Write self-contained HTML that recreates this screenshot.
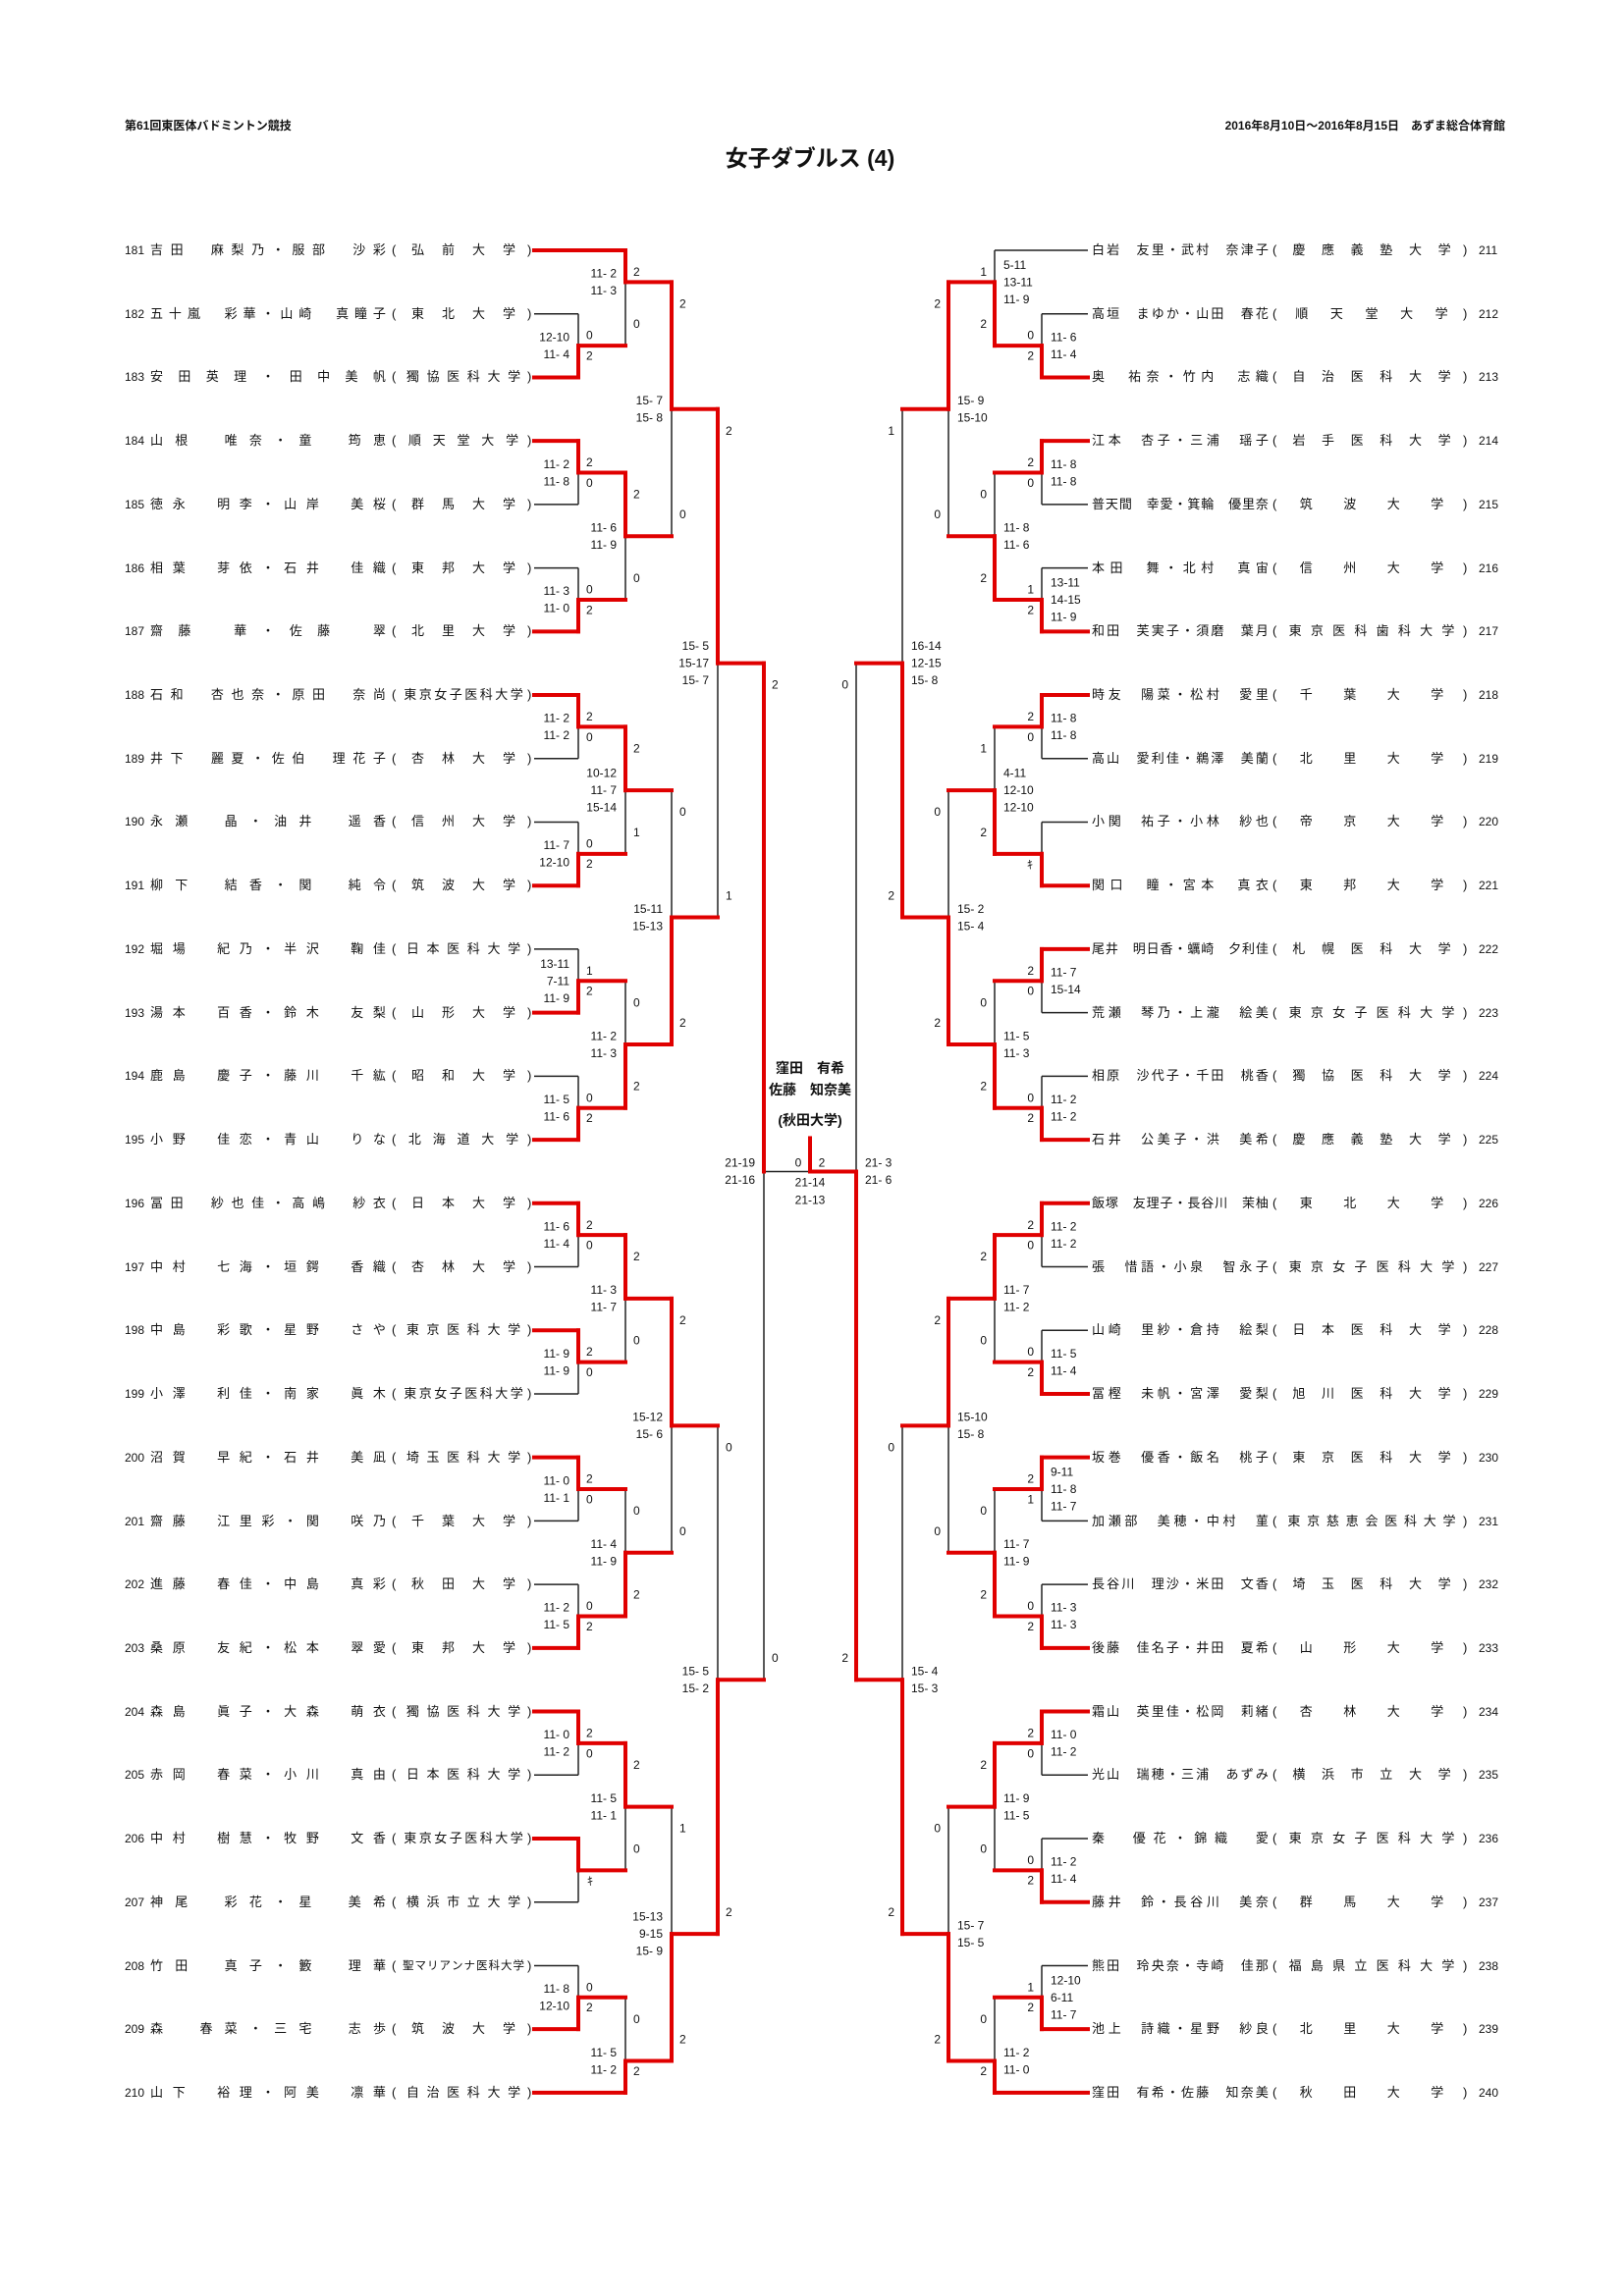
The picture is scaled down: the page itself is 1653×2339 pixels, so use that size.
<!DOCTYPE html>
<html><head><meta charset="utf-8">
<style>
body{margin:0;width:1653px;height:2339px;position:relative;background:#fff;font-family:"Liberation Sans","Noto Sans CJK JP",sans-serif;color:#111;overflow:hidden}
.h{position:absolute;font-weight:bold;font-size:12px;white-space:nowrap}
.t{position:absolute;left:0;width:1653px;height:18px;font-size:13px;line-height:18px;font-family:"Liberation Sans","Noto Sans CJK JP",sans-serif}
.t span{position:absolute;top:0;height:18px;white-space:nowrap}
.t .nm,.t .u{display:flex;text-align-last:justify}
.t .nm{justify-content:space-between}
.t .u{justify-content:space-around}
.t .n{font-size:12px}
.L .n{left:127px}.L .nm{left:153px;width:240px}.L .p1{left:399px}.L .u{left:410px;width:124px}.L .p2{left:537px}
.R .nm{left:1112px;width:180px}.R .p1{left:1296px}.R .u{left:1308px;width:178px}.R .p2{left:1490px}.R .n{left:1506px}
.t .sm{font-size:11.5px;justify-content:space-between}
svg{position:absolute;left:0;top:0}
svg text{font-family:"Liberation Sans Narrow","Liberation Sans",sans-serif;font-size:12px;fill:#111}
.ct{position:absolute;left:725px;width:200px;text-align:center;font-weight:bold;font-size:14px;line-height:18px}
</style></head><body>
<div class="h" style="left:127px;top:119px">第61回東医体バドミントン競技</div>
<div class="h" style="left:1133px;width:400px;text-align:right;top:119px">2016年8月10日～2016年8月15日　あずま総合体育館</div>
<div class="h" style="left:625px;width:400px;text-align:center;top:142px;font-size:23px">女子ダブルス (4)</div>

<div class="t L" style="top:246px"><span class="n">181</span><span class="nm">吉田　麻梨乃・服部　沙彩</span><span class="p1">(</span><span class="u">弘前大学</span><span class="p2">)</span></div>
<div class="t L" style="top:311px"><span class="n">182</span><span class="nm">五十嵐　彩華・山崎　真瞳子</span><span class="p1">(</span><span class="u">東北大学</span><span class="p2">)</span></div>
<div class="t L" style="top:375px"><span class="n">183</span><span class="nm">安田英理・田中美帆</span><span class="p1">(</span><span class="u">獨協医科大学</span><span class="p2">)</span></div>
<div class="t L" style="top:440px"><span class="n">184</span><span class="nm">山根　唯奈・童　筠恵</span><span class="p1">(</span><span class="u">順天堂大学</span><span class="p2">)</span></div>
<div class="t L" style="top:505px"><span class="n">185</span><span class="nm">徳永　明李・山岸　美桜</span><span class="p1">(</span><span class="u">群馬大学</span><span class="p2">)</span></div>
<div class="t L" style="top:570px"><span class="n">186</span><span class="nm">相葉　芽依・石井　佳織</span><span class="p1">(</span><span class="u">東邦大学</span><span class="p2">)</span></div>
<div class="t L" style="top:634px"><span class="n">187</span><span class="nm">齋藤　華・佐藤　翠</span><span class="p1">(</span><span class="u">北里大学</span><span class="p2">)</span></div>
<div class="t L" style="top:699px"><span class="n">188</span><span class="nm">石和　杏也奈・原田　奈尚</span><span class="p1">(</span><span class="u">東京女子医科大学</span><span class="p2">)</span></div>
<div class="t L" style="top:764px"><span class="n">189</span><span class="nm">井下　麗夏・佐伯　理花子</span><span class="p1">(</span><span class="u">杏林大学</span><span class="p2">)</span></div>
<div class="t L" style="top:828px"><span class="n">190</span><span class="nm">永瀬　晶・油井　遥香</span><span class="p1">(</span><span class="u">信州大学</span><span class="p2">)</span></div>
<div class="t L" style="top:893px"><span class="n">191</span><span class="nm">柳下　結香・関　純令</span><span class="p1">(</span><span class="u">筑波大学</span><span class="p2">)</span></div>
<div class="t L" style="top:958px"><span class="n">192</span><span class="nm">堀場　紀乃・半沢　鞠佳</span><span class="p1">(</span><span class="u">日本医科大学</span><span class="p2">)</span></div>
<div class="t L" style="top:1023px"><span class="n">193</span><span class="nm">湯本　百香・鈴木　友梨</span><span class="p1">(</span><span class="u">山形大学</span><span class="p2">)</span></div>
<div class="t L" style="top:1087px"><span class="n">194</span><span class="nm">鹿島　慶子・藤川　千紘</span><span class="p1">(</span><span class="u">昭和大学</span><span class="p2">)</span></div>
<div class="t L" style="top:1152px"><span class="n">195</span><span class="nm">小野　佳恋・青山　りな</span><span class="p1">(</span><span class="u">北海道大学</span><span class="p2">)</span></div>
<div class="t L" style="top:1217px"><span class="n">196</span><span class="nm">冨田　紗也佳・高嶋　紗衣</span><span class="p1">(</span><span class="u">日本大学</span><span class="p2">)</span></div>
<div class="t L" style="top:1282px"><span class="n">197</span><span class="nm">中村　七海・垣鍔　香織</span><span class="p1">(</span><span class="u">杏林大学</span><span class="p2">)</span></div>
<div class="t L" style="top:1346px"><span class="n">198</span><span class="nm">中島　彩歌・星野　さや</span><span class="p1">(</span><span class="u">東京医科大学</span><span class="p2">)</span></div>
<div class="t L" style="top:1411px"><span class="n">199</span><span class="nm">小澤　利佳・南家　眞木</span><span class="p1">(</span><span class="u">東京女子医科大学</span><span class="p2">)</span></div>
<div class="t L" style="top:1476px"><span class="n">200</span><span class="nm">沼賀　早紀・石井　美凪</span><span class="p1">(</span><span class="u">埼玉医科大学</span><span class="p2">)</span></div>
<div class="t L" style="top:1541px"><span class="n">201</span><span class="nm">齋藤　江里彩・関　咲乃</span><span class="p1">(</span><span class="u">千葉大学</span><span class="p2">)</span></div>
<div class="t L" style="top:1605px"><span class="n">202</span><span class="nm">進藤　春佳・中島　真彩</span><span class="p1">(</span><span class="u">秋田大学</span><span class="p2">)</span></div>
<div class="t L" style="top:1670px"><span class="n">203</span><span class="nm">桑原　友紀・松本　翠愛</span><span class="p1">(</span><span class="u">東邦大学</span><span class="p2">)</span></div>
<div class="t L" style="top:1735px"><span class="n">204</span><span class="nm">森島　眞子・大森　萌衣</span><span class="p1">(</span><span class="u">獨協医科大学</span><span class="p2">)</span></div>
<div class="t L" style="top:1799px"><span class="n">205</span><span class="nm">赤岡　春菜・小川　真由</span><span class="p1">(</span><span class="u">日本医科大学</span><span class="p2">)</span></div>
<div class="t L" style="top:1864px"><span class="n">206</span><span class="nm">中村　樹慧・牧野　文香</span><span class="p1">(</span><span class="u">東京女子医科大学</span><span class="p2">)</span></div>
<div class="t L" style="top:1929px"><span class="n">207</span><span class="nm">神尾　彩花・星　美希</span><span class="p1">(</span><span class="u">横浜市立大学</span><span class="p2">)</span></div>
<div class="t L" style="top:1994px"><span class="n">208</span><span class="nm">竹田　真子・籔　理華</span><span class="p1">(</span><span class="u sm">聖マリアンナ医科大学</span><span class="p2">)</span></div>
<div class="t L" style="top:2058px"><span class="n">209</span><span class="nm">森　春菜・三宅　志歩</span><span class="p1">(</span><span class="u">筑波大学</span><span class="p2">)</span></div>
<div class="t L" style="top:2123px"><span class="n">210</span><span class="nm">山下　裕理・阿美　凛華</span><span class="p1">(</span><span class="u">自治医科大学</span><span class="p2">)</span></div>

<div class="t R" style="top:246px"><span class="nm">白岩　友里・武村　奈津子</span><span class="p1">(</span><span class="u">慶應義塾大学</span><span class="p2">)</span><span class="n">211</span></div>
<div class="t R" style="top:311px"><span class="nm">高垣　まゆか・山田　春花</span><span class="p1">(</span><span class="u">順天堂大学</span><span class="p2">)</span><span class="n">212</span></div>
<div class="t R" style="top:375px"><span class="nm">奥　祐奈・竹内　志織</span><span class="p1">(</span><span class="u">自治医科大学</span><span class="p2">)</span><span class="n">213</span></div>
<div class="t R" style="top:440px"><span class="nm">江本　杏子・三浦　瑶子</span><span class="p1">(</span><span class="u">岩手医科大学</span><span class="p2">)</span><span class="n">214</span></div>
<div class="t R" style="top:505px"><span class="nm">普天間　幸愛・箕輪　優里奈</span><span class="p1">(</span><span class="u">筑波大学</span><span class="p2">)</span><span class="n">215</span></div>
<div class="t R" style="top:570px"><span class="nm">本田　舞・北村　真宙</span><span class="p1">(</span><span class="u">信州大学</span><span class="p2">)</span><span class="n">216</span></div>
<div class="t R" style="top:634px"><span class="nm">和田　芙実子・須磨　葉月</span><span class="p1">(</span><span class="u">東京医科歯科大学</span><span class="p2">)</span><span class="n">217</span></div>
<div class="t R" style="top:699px"><span class="nm">時友　陽菜・松村　愛里</span><span class="p1">(</span><span class="u">千葉大学</span><span class="p2">)</span><span class="n">218</span></div>
<div class="t R" style="top:764px"><span class="nm">高山　愛利佳・鵜澤　美蘭</span><span class="p1">(</span><span class="u">北里大学</span><span class="p2">)</span><span class="n">219</span></div>
<div class="t R" style="top:828px"><span class="nm">小関　祐子・小林　紗也</span><span class="p1">(</span><span class="u">帝京大学</span><span class="p2">)</span><span class="n">220</span></div>
<div class="t R" style="top:893px"><span class="nm">関口　瞳・宮本　真衣</span><span class="p1">(</span><span class="u">東邦大学</span><span class="p2">)</span><span class="n">221</span></div>
<div class="t R" style="top:958px"><span class="nm">尾井　明日香・蠣崎　夕利佳</span><span class="p1">(</span><span class="u">札幌医科大学</span><span class="p2">)</span><span class="n">222</span></div>
<div class="t R" style="top:1023px"><span class="nm">荒瀬　琴乃・上瀧　絵美</span><span class="p1">(</span><span class="u">東京女子医科大学</span><span class="p2">)</span><span class="n">223</span></div>
<div class="t R" style="top:1087px"><span class="nm">相原　沙代子・千田　桃香</span><span class="p1">(</span><span class="u">獨協医科大学</span><span class="p2">)</span><span class="n">224</span></div>
<div class="t R" style="top:1152px"><span class="nm">石井　公美子・洪　美希</span><span class="p1">(</span><span class="u">慶應義塾大学</span><span class="p2">)</span><span class="n">225</span></div>
<div class="t R" style="top:1217px"><span class="nm">飯塚　友理子・長谷川　茉柚</span><span class="p1">(</span><span class="u">東北大学</span><span class="p2">)</span><span class="n">226</span></div>
<div class="t R" style="top:1282px"><span class="nm">張　惜語・小泉　智永子</span><span class="p1">(</span><span class="u">東京女子医科大学</span><span class="p2">)</span><span class="n">227</span></div>
<div class="t R" style="top:1346px"><span class="nm">山崎　里紗・倉持　絵梨</span><span class="p1">(</span><span class="u">日本医科大学</span><span class="p2">)</span><span class="n">228</span></div>
<div class="t R" style="top:1411px"><span class="nm">冨樫　未帆・宮澤　愛梨</span><span class="p1">(</span><span class="u">旭川医科大学</span><span class="p2">)</span><span class="n">229</span></div>
<div class="t R" style="top:1476px"><span class="nm">坂巻　優香・飯名　桃子</span><span class="p1">(</span><span class="u">東京医科大学</span><span class="p2">)</span><span class="n">230</span></div>
<div class="t R" style="top:1541px"><span class="nm">加瀬部　美穂・中村　菫</span><span class="p1">(</span><span class="u">東京慈恵会医科大学</span><span class="p2">)</span><span class="n">231</span></div>
<div class="t R" style="top:1605px"><span class="nm">長谷川　理沙・米田　文香</span><span class="p1">(</span><span class="u">埼玉医科大学</span><span class="p2">)</span><span class="n">232</span></div>
<div class="t R" style="top:1670px"><span class="nm">後藤　佳名子・井田　夏希</span><span class="p1">(</span><span class="u">山形大学</span><span class="p2">)</span><span class="n">233</span></div>
<div class="t R" style="top:1735px"><span class="nm">霜山　英里佳・松岡　莉緒</span><span class="p1">(</span><span class="u">杏林大学</span><span class="p2">)</span><span class="n">234</span></div>
<div class="t R" style="top:1799px"><span class="nm">光山　瑞穂・三浦　あずみ</span><span class="p1">(</span><span class="u">横浜市立大学</span><span class="p2">)</span><span class="n">235</span></div>
<div class="t R" style="top:1864px"><span class="nm">秦　優花・錦織　愛</span><span class="p1">(</span><span class="u">東京女子医科大学</span><span class="p2">)</span><span class="n">236</span></div>
<div class="t R" style="top:1929px"><span class="nm">藤井　鈴・長谷川　美奈</span><span class="p1">(</span><span class="u">群馬大学</span><span class="p2">)</span><span class="n">237</span></div>
<div class="t R" style="top:1994px"><span class="nm">熊田　玲央奈・寺崎　佳那</span><span class="p1">(</span><span class="u">福島県立医科大学</span><span class="p2">)</span><span class="n">238</span></div>
<div class="t R" style="top:2058px"><span class="nm">池上　詩織・星野　紗良</span><span class="p1">(</span><span class="u">北里大学</span><span class="p2">)</span><span class="n">239</span></div>
<div class="t R" style="top:2123px"><span class="nm">窪田　有希・佐藤　知奈美</span><span class="p1">(</span><span class="u">秋田大学</span><span class="p2">)</span><span class="n">240</span></div>

<div class="ct" style="top:1079px">窪田　有希</div>
<div class="ct" style="top:1101px">佐藤　知奈美</div>
<div class="ct" style="top:1132px">(秋田大学)</div>

<svg id="sv" width="1653" height="2339" xmlns="http://www.w3.org/2000/svg"><g id="gb" stroke="#222" stroke-width="1.5" fill="none"></g><g id="gr" stroke="#e00000" stroke-width="4" stroke-linecap="square" fill="none"></g><g id="gt"></g></svg>

<script>
document.querySelectorAll('.t .nm,.t .u').forEach(function(e){
  var s=e.textContent;e.textContent='';
  for(var i=0;i<s.length;i++){var c=document.createElement('i');c.style.fontStyle='normal';c.textContent=s[i];e.appendChild(c);}
});
var NS='http://www.w3.org/2000/svg';
var gb=document.getElementById('gb'),gr=document.getElementById('gr'),gt=document.getElementById('gt');
function Y(r){return 255+64.72*r;}
function ln(x1,y1,x2,y2,red){var l=document.createElementNS(NS,'line');l.setAttribute('x1',x1);l.setAttribute('y1',y1);l.setAttribute('x2',x2);l.setAttribute('y2',y2);(red?gr:gb).appendChild(l);}
function tx(x,y,s,anc){var t=document.createElementNS(NS,'text');t.setAttribute('x',x);t.setAttribute('y',y+4);t.setAttribute('text-anchor',anc);t.textContent=s;gt.appendChild(t);}
var COLS={L:[589,637,684,731,778],R:[1061,1013,966,919,872]};
var START={L:544,R:1108};
function lf(r){return {leaf:true,y:Y(r)};}
function N(a,b,w,sc,g,jr){return {a:a,b:b,w:w,sc:sc,g:g,y:Y(jr)};}
function P(r,w,sc,g){return N(lf(r),lf(r+1),w,sc,g,r+0.5);}
function draw(n,side,k){
  var X=COLS[side][k],d=side=='L'?1:-1;
  [n.a,n.b].forEach(function(c,i){
    var win=(i==0&&n.w=='a')||(i==1&&n.w=='b');
    if(c.leaf){ln(START[side],c.y,X,c.y,win);}
    else{draw(c,side,k-1);ln(COLS[side][k-1],c.y,X,c.y,true);}
  });
  ln(X,n.a.y,X,n.b.y,false);
  var wy=n.w=='a'?n.a.y:n.b.y;ln(X,wy,X,n.y,true);
  var ga=side=='L'?'start':'end',sa=side=='L'?'end':'start';
  if(n.g=='f'){tx(X+d*9,n.y+11,'ｷ',ga);}
  else{tx(X+d*8,n.a.y+22,n.g[0],ga);tx(X+d*8,n.b.y-22,n.g[1],ga);}
  if(n.sc){var m=(n.sc.length-1)/2;n.sc.forEach(function(s,i){tx(X-d*9,n.y+(i-m)*17.5,s,sa);});}
}
function build(p,q,r,s,t){
  var Q1=N(lf(0),P(1,p[0][0],p[0][1],p[0][2]),q[0][0],q[0][1],q[0][2],0.5);
  var Ps=[];for(var i=1;i<14;i++){Ps.push(P(2*i+1,p[i][0],p[i][1],p[i][2]));}
  var Q2=N(Ps[0],Ps[1],q[1][0],q[1][1],q[1][2],4.5);
  var Q3=N(Ps[2],Ps[3],q[2][0],q[2][1],q[2][2],8.5);
  var Q4=N(Ps[4],Ps[5],q[3][0],q[3][1],q[3][2],12.5);
  var Q5=N(Ps[6],Ps[7],q[4][0],q[4][1],q[4][2],16.5);
  var Q6=N(Ps[8],Ps[9],q[5][0],q[5][1],q[5][2],20.5);
  var Q7=N(Ps[10],Ps[11],q[6][0],q[6][1],q[6][2],24.5);
  var Q8=N(Ps[12],lf(29),q[7][0],q[7][1],q[7][2],28.5);
  var R1=N(Q1,Q2,r[0][0],r[0][1],r[0][2],2.5),R2=N(Q3,Q4,r[1][0],r[1][1],r[1][2],10.5),
      R3=N(Q5,Q6,r[2][0],r[2][1],r[2][2],18.5),R4=N(Q7,Q8,r[3][0],r[3][1],r[3][2],26.5);
  var S1=N(R1,R2,s[0][0],s[0][1],s[0][2],6.5),S2=N(R3,R4,s[1][0],s[1][1],s[1][2],22.5);
  return N(S1,S2,t[0],t[1],t[2],14.5);
}
var TL=build(
 [['b',['12-10','11- 4'],['0','2']],['a',['11- 2','11- 8'],['2','0']],['b',['11- 3','11- 0'],['0','2']],['a',['11- 2','11- 2'],['2','0']],
  ['b',['11- 7','12-10'],['0','2']],['b',['13-11','7-11','11- 9'],['1','2']],['b',['11- 5','11- 6'],['0','2']],['a',['11- 6','11- 4'],['2','0']],
  ['a',['11- 9','11- 9'],['2','0']],['a',['11- 0','11- 1'],['2','0']],['b',['11- 2','11- 5'],['0','2']],['a',['11- 0','11- 2'],['2','0']],
  ['a',null,'f'],['b',['11- 8','12-10'],['0','2']]],
 [['a',['11- 2','11- 3'],['2','0']],['a',['11- 6','11- 9'],['2','0']],['a',['10-12','11- 7','15-14'],['2','1']],['b',['11- 2','11- 3'],['0','2']],
  ['a',['11- 3','11- 7'],['2','0']],['b',['11- 4','11- 9'],['0','2']],['a',['11- 5','11- 1'],['2','0']],['b',['11- 5','11- 2'],['0','2']]],
 [['a',['15- 7','15- 8'],['2','0']],['b',['15-11','15-13'],['0','2']],['a',['15-12','15- 6'],['2','0']],['b',['15-13','9-15','15- 9'],['1','2']]],
 [['a',['15- 5','15-17','15- 7'],['2','1']],['b',['15- 5','15- 2'],['0','2']]],
 ['a',['21-19','21-16'],['2','0']]);
var TR=build(
 [['b',['11- 6','11- 4'],['0','2']],['a',['11- 8','11- 8'],['2','0']],['b',['13-11','14-15','11- 9'],['1','2']],['a',['11- 8','11- 8'],['2','0']],
  ['b',null,'f'],['a',['11- 7','15-14'],['2','0']],['b',['11- 2','11- 2'],['0','2']],['a',['11- 2','11- 2'],['2','0']],
  ['b',['11- 5','11- 4'],['0','2']],['a',['9-11','11- 8','11- 7'],['2','1']],['b',['11- 3','11- 3'],['0','2']],['a',['11- 0','11- 2'],['2','0']],
  ['b',['11- 2','11- 4'],['0','2']],['b',['12-10','6-11','11- 7'],['1','2']]],
 [['b',['5-11','13-11','11- 9'],['1','2']],['b',['11- 8','11- 6'],['0','2']],['b',['4-11','12-10','12-10'],['1','2']],['b',['11- 5','11- 3'],['0','2']],
  ['a',['11- 7','11- 2'],['2','0']],['b',['11- 7','11- 9'],['0','2']],['a',['11- 9','11- 5'],['2','0']],['b',['11- 2','11- 0'],['0','2']]],
 [['a',['15- 9','15-10'],['2','0']],['b',['15- 2','15- 4'],['0','2']],['a',['15-10','15- 8'],['2','0']],['b',['15- 7','15- 5'],['0','2']]],
 [['b',['16-14','12-15','15- 8'],['1','2']],['b',['15- 4','15- 3'],['0','2']]],
 ['b',['21- 3','21- 6'],['0','2']]);
draw(TL,'L',4);draw(TR,'R',4);
var fy=TL.y;
ln(778,fy,825,fy,false);ln(872,fy,825,fy,true);ln(825,fy-34,825,fy,true);
tx(813,fy-9,'0','middle');tx(837,fy-9,'2','middle');
tx(825,fy+11,'21-14','middle');tx(825,fy+29,'21-13','middle');
</script>
</body></html>
